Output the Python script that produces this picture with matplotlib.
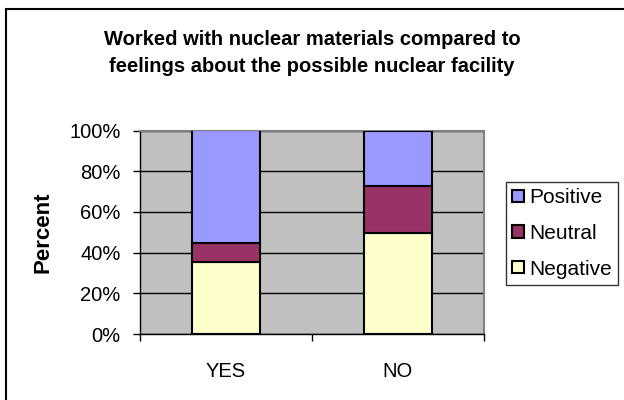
import matplotlib
matplotlib.use('Agg')
import matplotlib.pyplot as plt
from matplotlib.patches import Rectangle, Patch
from matplotlib.ticker import PercentFormatter
import numpy as np

plt.rcParams['font.family'] = ['Liberation Sans', 'DejaVu Sans']

# survey answers, percent of each group
groups = ['YES', 'NO']
negative = [35.5, 49.6]
neutral = [9.4, 23.1]
positive = [55.1, 27.3]

series_names = ['Negative', 'Neutral', 'Positive']
series_colors = ['#FFFFCC', '#993366', '#9999FF']

fig = plt.figure(figsize=(6.24, 4.0), dpi=100)
ax = fig.add_axes([140 / 624, 1 - 334 / 400, 344 / 624, 203.5 / 400])
ax.set_facecolor('#C0C0C0')

x = np.arange(len(groups))
bottom = np.zeros(len(groups))
for vals, name, col in zip([negative, neutral, positive], series_names, series_colors):
    ax.bar(x, vals, width=0.4, bottom=bottom, color=col, edgecolor='black',
           linewidth=1.5, label=name, zorder=3)
    bottom += np.array(vals)

ax.set_xlim(-0.5, 1.5)
ax.set_ylim(0, 100)
ax.set_yticks([0, 20, 40, 60, 80, 100])
ax.yaxis.set_major_formatter(PercentFormatter(decimals=0))
ax.yaxis.grid(True, color='black', linewidth=1.0, zorder=1)
ax.set_axisbelow(True)

# category labels centred, tick marks on the category boundaries
ax.set_xticks([-0.5, 0.5, 1.5])
ax.set_xticklabels([])
ax.set_xticks(x, minor=True)
ax.set_xticklabels(groups, minor=True)
ax.tick_params(axis='x', which='minor', length=0, pad=20, labelsize=14.5)
ax.tick_params(axis='x', which='major', length=5, width=1, color='black')
ax.tick_params(axis='y', length=5, width=1, pad=9, labelsize=14.5)

for side in ['top', 'right']:
    ax.spines[side].set_color('#808080')
    ax.spines[side].set_linewidth(1.5)
for side in ['left', 'bottom']:
    ax.spines[side].set_color('black')
    ax.spines[side].set_linewidth(1.0)

ax.set_ylabel('Percent', fontsize=16, fontweight='bold', labelpad=11)

fig.text(0.5, 1 - 53 / 400, 'Worked with nuclear materials compared to\nfeelings about the possible nuclear facility',
         ha='center', va='center', fontsize=14.5, fontweight='bold', linespacing=1.55)

handles = [Patch(facecolor=c, edgecolor='black', linewidth=1.5, label=n)
           for n, c in zip(series_names[::-1], series_colors[::-1])]
leg = fig.legend(handles=handles, loc='upper left', bbox_to_anchor=(506 / 624, 1 - 182 / 400),
                 bbox_transform=fig.transFigure, borderaxespad=0, fontsize=15,
                 handlelength=0.55, handleheight=0.55, handletextpad=0.25,
                 labelspacing=0.8, borderpad=0.3, fancybox=False, frameon=True)
leg.get_frame().set_edgecolor('black')
leg.get_frame().set_linewidth(1.0)

# chart area border
fig.patches.append(Rectangle((6 / 624, -0.1), 1.2, 1.1 - 9 / 400, transform=fig.transFigure,
                             fill=False, edgecolor='black', linewidth=1.5))

fig.savefig('out.png', dpi=100)
